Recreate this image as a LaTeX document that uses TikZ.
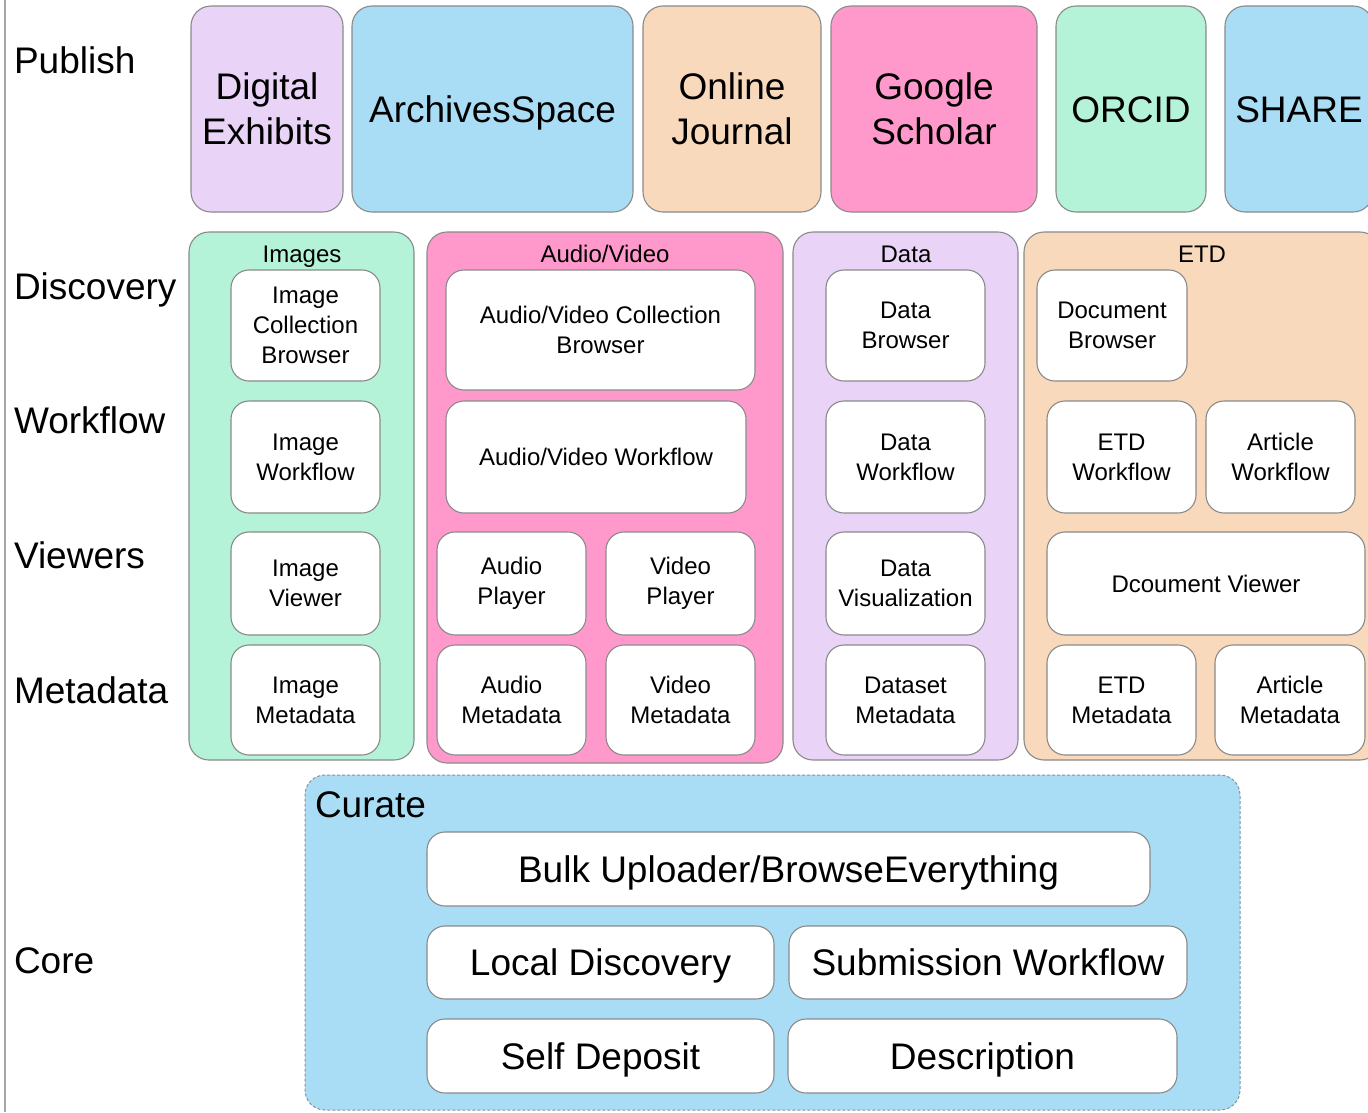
\documentclass[tikz,border=0pt]{standalone}
\usepackage{fontspec}
\setmainfont{Liberation Sans}
\definecolor{cPurple}{HTML}{E9D3F7}
\definecolor{cBlue}{HTML}{A9DDF5}
\definecolor{cPeach}{HTML}{F9D9BB}
\definecolor{cPink}{HTML}{FF99CC}
\definecolor{cGreen}{HTML}{B4F3D8}
\definecolor{bordergray}{HTML}{8A8A8A}
\definecolor{dashgray}{HTML}{7F93A3}
\newcommand\drawbox[7]{\node[#1, minimum width={(#4)-(#2)}, minimum height={(#5)-(#3)}] (#6) at ({((#2)+(#4))/2},{((#3)+(#5))/2}) {#7};}
\tikzset{
  every node/.style={inner sep=0pt, outer sep=0pt, text=black},
  bigtxt/.style={font=\fontsize{37}{45}\selectfont},
  smalltxt/.style={font=\fontsize{24}{30}\selectfont},
  capsonly/.style={text height=26.5pt, text depth=0pt},
  pubbox/.style={draw=bordergray, line width=1.1pt, rounded corners=20pt, align=center, bigtxt},
  grpbox/.style={draw=bordergray, line width=1.1pt, rounded corners=20pt},
  innerbox/.style={draw=bordergray, line width=1.1pt, rounded corners=18pt, fill=white, align=center, smalltxt},
  corebox/.style={draw=bordergray, line width=1.1pt, rounded corners=18pt, fill=white, align=center, bigtxt, capsonly},
  curatebox/.style={draw=dashgray, line width=1pt, dash pattern=on 3pt off 2pt, rounded corners=20pt, fill=cBlue},
  rowlabel/.style={bigtxt, anchor=base west},
  grptitle/.style={smalltxt, anchor=base},
}
\begin{document}
\begin{tikzpicture}[x=1pt,y=-1pt]
\useasboundingbox (0,0) rectangle (1368,1112);
\clip (0,0) rectangle (1368,1112);
\fill[white] (0,0) rectangle (1368,1112);
% left rule
\coordinate (ruleTop) at (5,0);
\coordinate (ruleBot) at (5,1112);
\draw[color=gray!70, line width=1.5pt] (ruleTop) -- (ruleBot);

% row labels
\node[rowlabel] (lPublish) at (14,73) {Publish};
\node[rowlabel] (lDiscovery) at (14,299) {Discovery};
\node[rowlabel] (lWorkflow) at (14,433) {Workflow};
\node[rowlabel] (lViewers) at (14,568) {Viewers};
\node[rowlabel] (lMetadata) at (14,703) {Metadata};
\node[rowlabel] (lCore) at (14,973) {Core};

% publish row
\drawbox{pubbox, fill=cPurple}{191}{6}{343}{212}{pDigital}{Digital\\Exhibits}
\drawbox{pubbox, fill=cBlue, capsonly}{352}{6}{633}{212}{pArchives}{ArchivesSpace}
\drawbox{pubbox, fill=cPeach}{643}{6}{821}{212}{pJournal}{Online\\Journal}
\drawbox{pubbox, fill=cPink}{831}{6}{1037}{212}{pScholar}{Google\\Scholar}
\drawbox{pubbox, fill=cGreen, capsonly}{1056}{6}{1206}{212}{pOrcid}{ORCID}
\drawbox{pubbox, fill=cBlue, capsonly}{1225}{6}{1373}{212}{pShare}{SHARE}

% groups
\drawbox{grpbox, fill=cGreen}{189}{232}{414}{760}{gImages}{}
\drawbox{grpbox, fill=cPink}{427}{232}{783}{763}{gAV}{}
\drawbox{grpbox, fill=cPurple}{793}{232}{1018}{760}{gData}{}
\drawbox{grpbox, fill=cPeach}{1024}{232}{1380}{760}{gETD}{}
\node[grptitle] (tImages) at (302,262) {Images};
\node[grptitle] (tAV) at (605,262) {Audio/Video};
\node[grptitle] (tData) at (906,262) {Data};
\node[grptitle] (tETD) at (1202,262) {ETD};

% images
\drawbox{innerbox}{231}{270}{380}{381}{iBrowser}{Image\\Collection\\Browser}
\drawbox{innerbox}{231}{401}{380}{513}{iWorkflow}{Image\\Workflow}
\drawbox{innerbox}{231}{532}{380}{635}{iViewer}{Image\\Viewer}
\drawbox{innerbox}{231}{645}{380}{755}{iMeta}{Image\\Metadata}

% audio/video
\drawbox{innerbox}{446}{270}{755}{390}{avBrowser}{Audio/Video Collection\\Browser}
\drawbox{innerbox}{446}{401}{746}{513}{avWorkflow}{Audio/Video Workflow}
\drawbox{innerbox}{437}{532}{586}{635}{aPlayer}{Audio\\Player}
\drawbox{innerbox}{606}{532}{755}{635}{vPlayer}{Video\\Player}
\drawbox{innerbox}{437}{645}{586}{755}{aMeta}{Audio\\Metadata}
\drawbox{innerbox}{606}{645}{755}{755}{vMeta}{Video\\Metadata}

% data
\drawbox{innerbox}{826}{270}{985}{381}{dBrowser}{Data\\Browser}
\drawbox{innerbox}{826}{401}{985}{513}{dWorkflow}{Data\\Workflow}
\drawbox{innerbox}{826}{532}{985}{635}{dViz}{Data\\Visualization}
\drawbox{innerbox}{826}{645}{985}{755}{dMeta}{Dataset\\Metadata}

% etd
\drawbox{innerbox}{1037}{270}{1187}{381}{eBrowser}{Document\\Browser}
\drawbox{innerbox}{1047}{401}{1196}{513}{eWorkflow}{ETD\\Workflow}
\drawbox{innerbox}{1206}{401}{1355}{513}{arWorkflow}{Article\\Workflow}
\drawbox{innerbox}{1047}{532}{1365}{635}{eViewer}{Dcoument Viewer}
\drawbox{innerbox}{1047}{645}{1196}{755}{eMeta}{ETD\\Metadata}
\drawbox{innerbox}{1215}{645}{1365}{755}{arMeta}{Article\\Metadata}

% curate
\drawbox{curatebox}{305}{775}{1240}{1110}{gCurate}{}
\node[bigtxt, anchor=base west] (tCurate) at (315,817) {Curate};
\drawbox{corebox}{427}{832}{1150}{906}{cBulk}{Bulk Uploader/BrowseEverything}
\drawbox{corebox}{427}{926}{774}{999}{cLocal}{Local Discovery}
\drawbox{corebox}{789}{926}{1187}{999}{cSubmit}{Submission Workflow}
\drawbox{corebox}{427}{1019}{774}{1093}{cSelf}{Self Deposit}
\drawbox{corebox}{788}{1019}{1177}{1093}{cDesc}{Description}
\end{tikzpicture}
\end{document}
